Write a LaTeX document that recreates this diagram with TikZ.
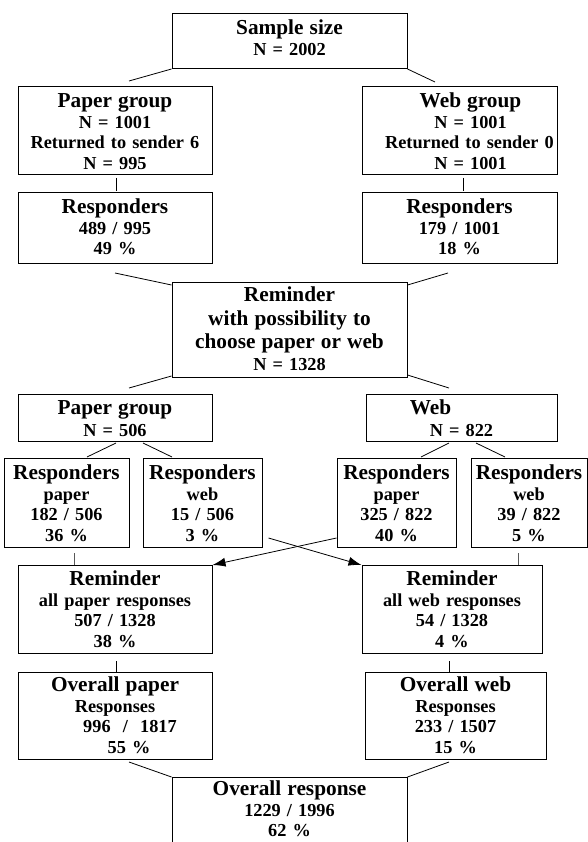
\documentclass[tikz,border=0pt]{standalone}
\usepackage{fontspec}
\setmainfont{Liberation Serif}
\usetikzlibrary{arrows.meta,calc}
\newcommand\hdr[1]{{\fontsize{21.3}{20.6}\selectfont #1}}
\begin{document}
\begin{tikzpicture}[x=1pt,y=-1pt,
  box/.style={draw,line width=1pt,inner sep=0pt,anchor=north,align=center,
    font=\fontsize{18.3}{20.6}\selectfont\bfseries},
  conn/.style={line width=0.8pt},
  grayconn/.style={line width=0.8pt,draw=black!65},
  arr/.style={line width=0.8pt,-{Latex[length=13pt,width=9pt]}}]
\useasboundingbox (0,0) rectangle (588,842);
\clip (0,0) rectangle (588,842);

\node[box,text width=235pt,text height=21pt,text depth=34pt] (sample) at (289.5,13)
  {\hdr{Sample size}\\N = 2002};
\node[box,text width=194pt,text height=21pt,text depth=67pt] (pg1) at (115,86)
  {\hdr{Paper group}\\N = 1001\\Returned to sender 6\\N = 995};
\node[box,text width=195pt,text height=21pt,text depth=67pt] (wg1) at (459.5,86)
  {\hspace*{22pt}\hdr{Web group}\\\hspace*{22pt}N = 1001\\\hspace*{20pt}Returned to sender 0\\\hspace*{22pt}N = 1001};
\node[box,text width=194pt,text height=21pt,text depth=50pt] (r1p) at (115,192)
  {\hdr{Responders}\\489 / 995\\49 \%};
\node[box,text width=195pt,text height=21pt,text depth=50pt] (r1w) at (459.5,192)
  {\hdr{Responders}\\179 / 1001\\18 \%};
\node[box,text width=235pt,text height=19pt,text depth=76pt] (rem) at (289.5,282)
  {\hdr{Reminder}\\[3pt]\hdr{with possibility to}\\[3pt]\hdr{choose paper or web}\\[1.5pt]N = 1328};
\node[box,text width=194pt,text height=20pt,text depth=27pt] (pg2) at (115,394)
  {\hdr{Paper group}\\[1pt]N = 506};
\node[box,text width=191pt,text height=20pt,text depth=27pt] (wg2) at (461.5,394)
  {\hdr{Web}\hspace*{62pt}\mbox{}\\[1pt]N = 822};
\node[box,text width=125pt,text height=21pt,text depth=68pt] (rpp) at (66.5,458)
  {\hdr{Responders}\\paper\\182 / 506\\36 \%};
\node[box,text width=119pt,text height=21pt,text depth=68pt] (rpw) at (202.5,458)
  {\hdr{Responders}\\web\\15 / 506\\3 \%};
\node[box,text width=119pt,text height=21pt,text depth=68pt] (rwp) at (396.5,458)
  {\hdr{Responders}\\paper\\325 / 822\\40 \%};
\node[box,text width=116pt,text height=21pt,text depth=68pt] (rww) at (529,458)
  {\hdr{Responders}\\web\\39 / 822\\5 \%};
\node[box,text width=194pt,text height=20pt,text depth=68pt] (remp) at (115,565)
  {\hdr{Reminder}\\all paper responses\\507 / 1328\\38 \%};
\node[box,text width=180pt,text height=20pt,text depth=68pt] (remw) at (452,565)
  {\hdr{Reminder}\\all web responses\\54 / 1328\\4 \%};
\node[box,text width=194pt,text height=19pt,text depth=68pt] (ovp) at (115,672)
  {\hdr{Overall paper}\\Responses\\\hspace*{30pt}996~~/~~1817\\\hspace*{28pt}55 \%};
\node[box,text width=181pt,text height=19pt,text depth=68pt] (ovw) at (455.5,672)
  {\hdr{Overall web}\\Responses\\233 / 1507\\15 \%};
\node[box,text width=235pt,text height=18pt,text depth=100pt] (ovr) at (289.5,777)
  {\hdr{Overall response}\\1229 / 1996\\62 \%};

% connectors
\draw[conn] (sample.south west) -- ($(pg1.north)+(14,-5)$);
\draw[conn] (sample.south east) -- ($(wg1.north)+(-24.5,-4)$);
\draw[conn] ($(pg1.south)+(1,3)$) -- ($(r1p.north)+(1,-1)$);
\draw[conn] ($(wg1.south)+(3.5,3)$) -- ($(r1w.north)+(3.5,-1)$);
\draw[conn] ($(r1p.south)+(0,9)$) -- ($(rem.north west)+(0,3)$);
\draw[conn] ($(r1w.south)+(-11.5,9)$) -- ($(rem.north east)+(0,3)$);
\draw[conn] ($(rem.south west)+(0,-2)$) -- ($(pg2.north)+(14,-6)$);
\draw[conn] ($(rem.south east)+(0,-3)$) -- ($(wg2.north)+(-12.5,-6)$);
\draw[conn] ($(pg2.south)+(1,1)$) -- ($(rpp.north)+(20.5,-1)$);
\draw[conn] ($(pg2.south)+(28,1)$) -- ($(rpw.north)+(-30.5,-1)$);
\draw[conn] ($(wg2.south)+(-12.5,1)$) -- ($(rwp.north)+(24.5,-1)$);
\draw[conn] ($(wg2.south)+(14.5,1)$) -- ($(rww.north)+(-24,-1)$);
\draw[grayconn] ($(rpp.south)+(7.5,5)$) -- ($(remp.north)+(-41,0)$);
\draw[grayconn] ($(rww.south)+(-11,5)$) -- ($(remw.north)+(66,0)$);
\draw[arr] ($(rwp.south west)+(0,-10)$) -- (remp.north east);
\draw[arr] ($(rpw.south east)+(6,-10)$) -- (remw.north west);
\draw[conn] ($(remp.south)+(1,7)$) -- ($(ovp.north)+(1,0)$);
\draw[conn] ($(remw.south)+(-3,7)$) -- ($(ovw.north)+(-6.5,0)$);
\draw[conn] ($(ovp.south)+(14,2)$) -- (ovr.north west);
\draw[conn] ($(ovw.south)+(-6.5,2)$) -- (ovr.north east);
\end{tikzpicture}
\end{document}
